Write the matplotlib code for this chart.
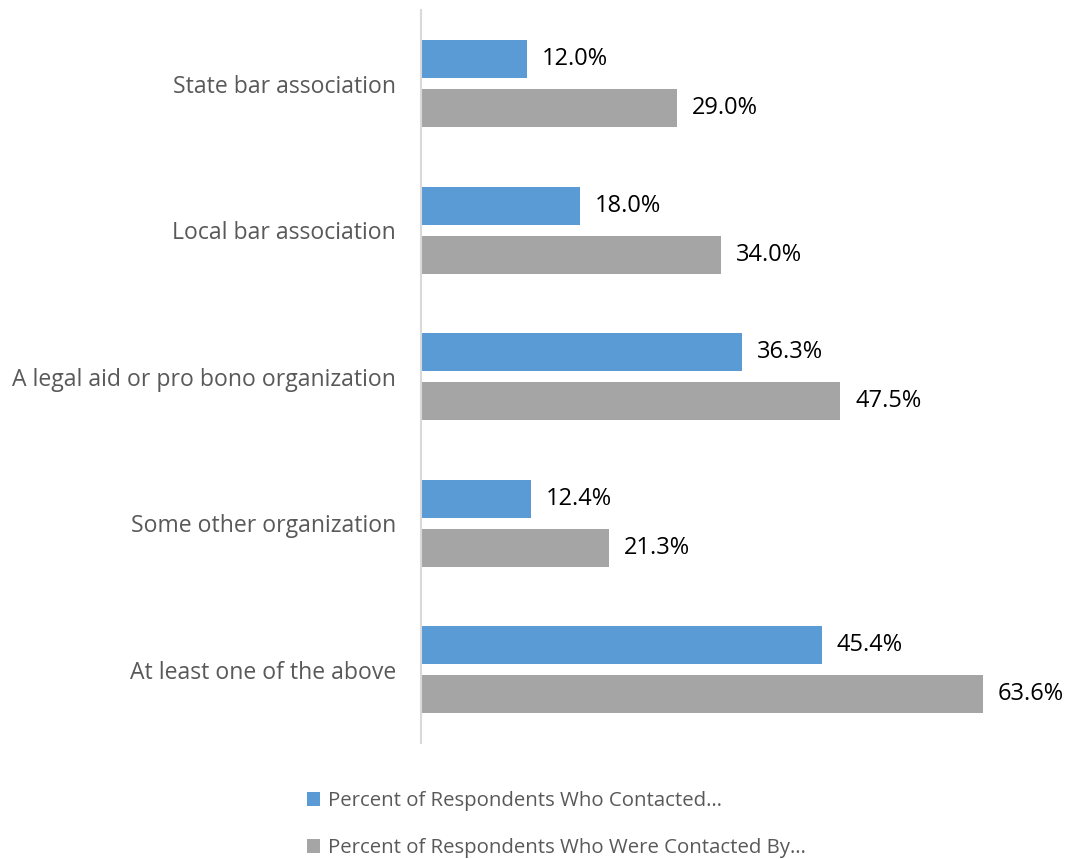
import matplotlib.pyplot as plt
import numpy as np

plt.rcParams['font.family'] = ['Open Sans', 'DejaVu Sans']

# Survey data
categories = ['State bar association', 'Local bar association',
              'A legal aid or pro bono organization', 'Some other organization',
              'At least one of the above']
contacted = [12.0, 18.0, 36.3, 12.4, 45.4]
contacted_by = [29.0, 34.0, 47.5, 21.3, 63.6]
series_names = ['Percent of Respondents Who Contacted\u2026',
                'Percent of Respondents Who Were Contacted By\u2026']

blue = '#5B9BD5'
gray = '#A5A5A5'

fig = plt.figure(figsize=(10.69, 8.59), dpi=100)
ax = fig.add_axes([0.394, 0.135, 0.578, 0.853])

y = np.arange(len(categories))
h = 0.26
off = 0.167
b1 = ax.barh(y - off, contacted, height=h, color=blue, label=series_names[0])
b2 = ax.barh(y + off, contacted_by, height=h, color=gray, label=series_names[1])

for bars, vals in ((b1, contacted), (b2, contacted_by)):
    for bar, v in zip(bars, vals):
        ax.text(v + 1.7, bar.get_y() + bar.get_height() / 2, f'{v:.1f}%',
                va='center', ha='left', fontsize=17, color='black')

ax.set_xlim(0, 70)
ax.set_ylim(len(categories) - 0.5, -0.5)
ax.set_yticks(y)
ax.set_yticklabels(categories, fontsize=16.6, color='#595959')
ax.tick_params(axis='y', length=0, pad=18)
ax.set_xticks([])
for s in ('top', 'right', 'bottom'):
    ax.spines[s].set_visible(False)
ax.spines['left'].set_color('#D9D9D9')
ax.spines['left'].set_linewidth(1.5)

leg = fig.legend(handles=[b1, b2], loc='upper left', bbox_to_anchor=(0.27, 0.1),
                 frameon=False, fontsize=14.7, handlelength=0.65, handleheight=0.65,
                 handletextpad=0.4, labelspacing=1.3)
for t in leg.get_texts():
    t.set_color('#595959')

fig.savefig('out.png', dpi=100)
